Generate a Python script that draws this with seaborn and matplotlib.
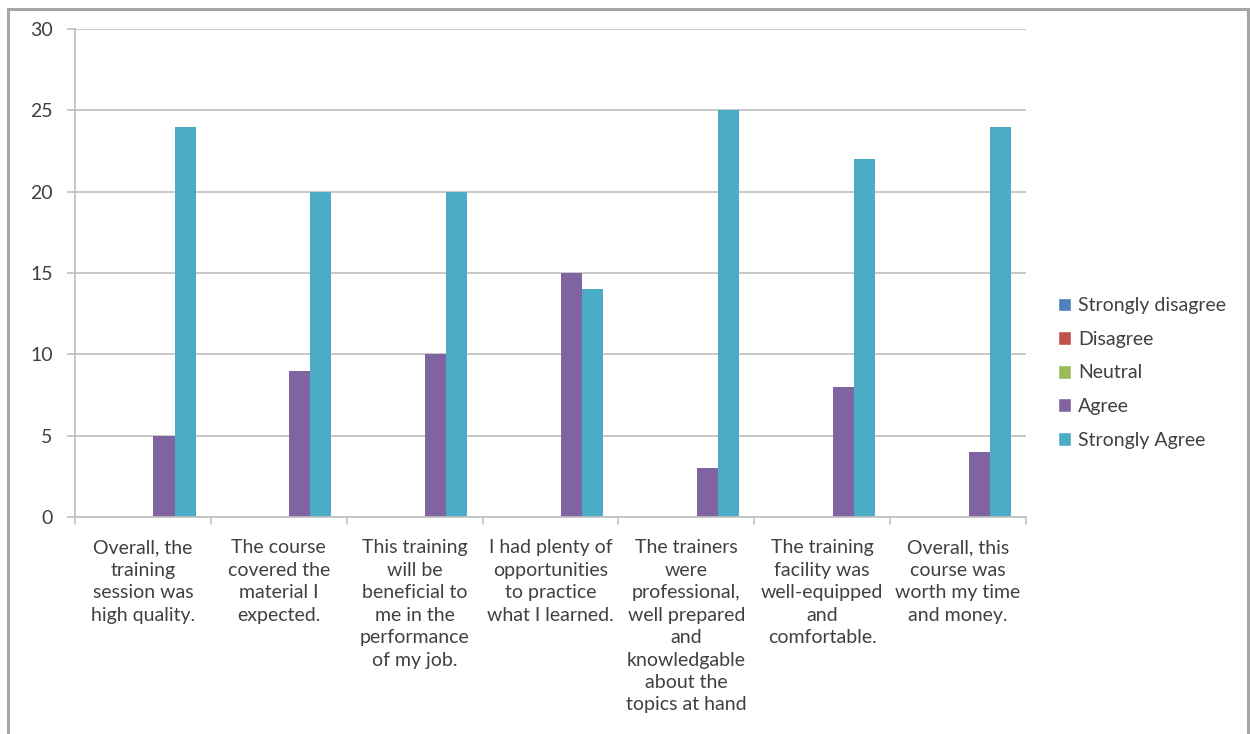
"""
Training feedback survey - grouped bar chart.
"""

import pandas as pd
import matplotlib.pyplot as plt
import seaborn as sns
from matplotlib.patches import Rectangle, Patch

questions = [
    "Overall, the\ntraining\nsession was\nhigh quality.",
    "The course\ncovered the\nmaterial I\nexpected.",
    "This training\nwill be\nbeneficial to\nme in the\nperformance\nof my job.",
    "I had plenty of\nopportunities\nto practice\nwhat I learned.",
    "The trainers\nwere\nprofessional,\nwell prepared\nand\nknowledgable\nabout the\ntopics at hand",
    "The training\nfacility was\nwell-equipped\nand\ncomfortable.",
    "Overall, this\ncourse was\nworth my time\nand money.",
]
responses = ["Strongly disagree", "Disagree", "Neutral", "Agree", "Strongly Agree"]
strongly_disagree = [0, 0, 0, 0, 0, 0, 0]
disagree = [0, 0, 0, 0, 0, 0, 0]
neutral = [0, 0, 0, 0, 0, 0, 0]
agree = [5, 9, 10, 15, 3, 8, 4]
strongly_agree = [24, 20, 20, 14, 25, 22, 24]
colors = ["#4F81BD", "#C0504D", "#9BBB59", "#8064A2", "#4BACC6"]

rows = []
for resp, vals in zip(responses, [strongly_disagree, disagree, neutral, agree, strongly_agree]):
    for q, v in zip(questions, vals):
        rows.append({"question": q, "response": resp, "count": v})
df = pd.DataFrame(rows)

sns.set_style("white")
plt.rcParams["font.family"] = ["Lato", "DejaVu Sans"]
text_col = "#404040"
grid_col = "#BFBFBF"

fig = plt.figure(figsize=(12.5, 7.34), dpi=100)
ax = fig.add_axes([75 / 1250, 1 - 517 / 734, 951 / 1250, 488 / 734])

sns.barplot(data=df, x="question", y="count", hue="response", hue_order=responses,
            palette=colors, width=0.775, linewidth=0, saturation=1, ax=ax, legend=False)

ax.set_ylim(0, 30)
ax.set_xlim(-0.5, 6.5)
ax.set_yticks(range(0, 31, 5))
ax.yaxis.grid(True, color=grid_col, linewidth=1.2)
ax.set_axisbelow(True)
ax.set_xlabel("")
ax.set_ylabel("")

for side in ["top", "right"]:
    ax.spines[side].set_visible(False)
for side in ["left", "bottom"]:
    ax.spines[side].set_color(grid_col)
    ax.spines[side].set_linewidth(1.2)

# category labels centred, tick marks at group boundaries (Excel style)
ax.set_xticks(range(len(questions)))
ax.set_xticklabels(questions, fontsize=14, color=text_col, linespacing=1.39, va="top")
ax.tick_params(axis="x", length=0, pad=16)
for b in range(len(questions) + 1):
    ax.plot([b - 0.5, b - 0.5], [0, -0.4], color=grid_col, lw=1.2, clip_on=False)
ax.tick_params(axis="y", length=6, color=grid_col, width=1.2, labelsize=14,
               labelcolor=text_col, pad=10, left=True)

handles = [Patch(facecolor=c, label=r) for c, r in zip(colors, responses)]
fig.legend(handles=handles, loc="center left", bbox_to_anchor=(1040 / 1250, 1 - 373 / 734),
           frameon=False, fontsize=14, labelcolor=text_col, handlelength=0.7,
           handleheight=0.7, handletextpad=0.35, labelspacing=0.85)

# outer chart frame
fig.patches.append(Rectangle((8 / 1250, -0.05), 1240 / 1250, 1 - 9 / 734 + 0.05,
                             transform=fig.transFigure, fill=False,
                             edgecolor="#A6A6A6", linewidth=2.2))

plt.savefig("out.png", dpi=100)
